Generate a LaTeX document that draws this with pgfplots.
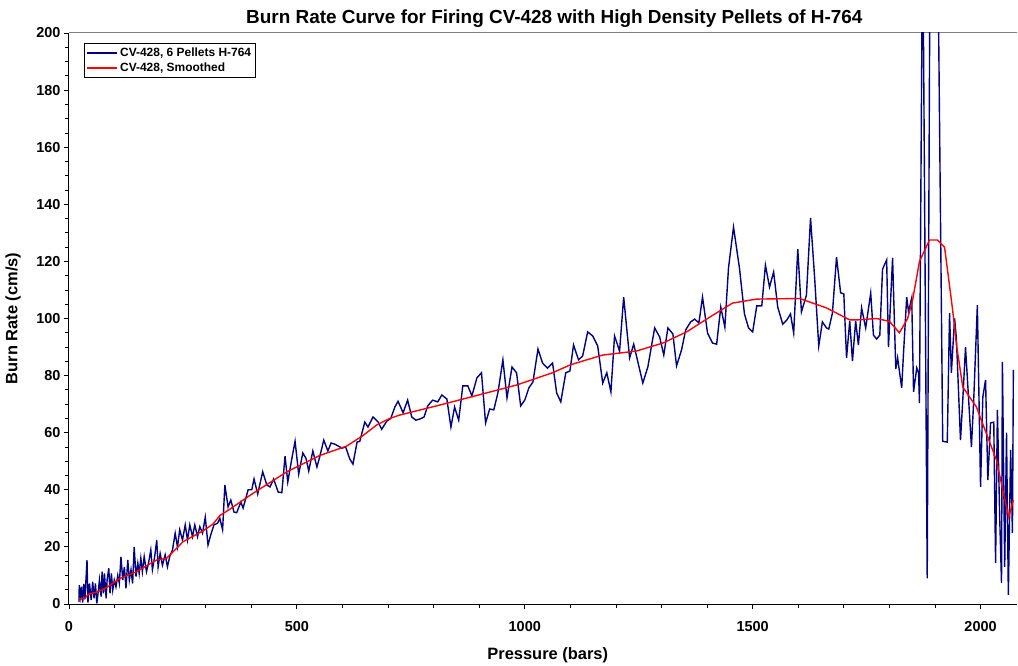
\documentclass[border=0pt]{standalone}
\usepackage{fontspec}
\setmainfont{Liberation Sans}
\usepackage{pgfplots}
\pgfplotsset{compat=1.18}
\definecolor{navyblue}{RGB}{0,0,128}
\definecolor{borderg}{RGB}{128,128,128}
\begin{document}
\begin{tikzpicture}
\useasboundingbox (-69bp,-62bp) rectangle (949bp,604bp);
\begin{axis}[
  at={(0,0)}, anchor=south west,
  scale only axis, width=948bp, height=571bp,
  xmin=0, xmax=2080, ymin=0, ymax=200,
  axis x line*=bottom, axis y line*=left,
  axis line style={black, line width=1bp},
  xtick={0,500,1000,1500,2000}, minor x tick num=4,
  ytick={0,20,...,200}, minor y tick num=3,
  tick align=outside,
  major tick length=5bp, minor tick length=3.5bp,
  tick style={black, line width=0.8bp},
  /pgf/number format/assume math mode=true,
  /pgf/number format/1000 sep={},
  ticklabel style={font=\bfseries\fontsize{14.5}{16}\selectfont},
  xticklabel style={yshift=-9bp},
  every axis title shift=0pt,
  title={Burn Rate Curve for Firing CV-428 with High Density Pellets of H-764},
  title style={font=\bfseries\fontsize{19}{22}\selectfont, at={(axis description cs:0.512,1.026)}, anchor=center},
  xlabel={Pressure (bars)},
  ylabel={Burn Rate (cm/s)},
  label style={font=\bfseries\fontsize{16.5}{19}\selectfont},
  xlabel style={at={(axis description cs:0.505,-0.0893)}, anchor=center},
  ylabel style={at={(axis description cs:-0.059,0.5)}, anchor=center},
  legend style={at={(axis description cs:0.0158,0.9825)}, anchor=north west,
    draw=black, line width=0.6bp, font=\bfseries\fontsize{12}{14}\selectfont,
    inner sep=2.5bp, row sep=1bp, cells={anchor=west}},
  legend image code/.code={\draw[#1] (0bp,0bp) -- (30bp,0bp);},
]
\draw[borderg, line width=1bp] (rel axis cs:0,1) -- (rel axis cs:1,1);
\addplot[navyblue, line width=1.4bp] table {
22 0.7
22.5 6.6
25.5 2.6
27.6 6.1
30 0.5
32.5 7
35 1.6
39.5 15.4
41.6 0.5
45 7.2
48.7 1.4
52 7.8
55 2
58 7.2
61 0.2
64.6 4.9
66.8 8.4
70.5 2.6
72.6 11.3
75.6 3.7
77.8 10.7
81.5 2
83.6 8.4
87.3 12.5
90 3.7
93 10.7
96 4.9
99.4 8.4
103 6
107 10
110.5 7.2
114 16.5
118 8.4
121.5 13
125 5.5
129 15.4
132.4 8.4
136 12
139.6 7.2
143 20
147 9.6
151 14.3
154 10.7
157.6 16
161 11.3
165 16.6
170 11.3
174.5 14.3
179.5 18.9
183 12
188 16.6
192.5 22.4
195.5 13
200 17.7
205 13.6
211 17.2
216 13
221 16.6
227 18.9
233 24.8
238 20
243 26
249 22.4
255 27.7
260 22.4
265 27.7
271 23.6
276 27.7
282 23.6
287 27.1
293 24.8
299 30.4
305 20.7
311 24.2
318 27.7
326 28.3
331 30
337 26
342 41.7
349 34
355 36.4
362 32.2
368 32
377 35.7
382 33.6
393 40
401 40
406 43.8
414 38.5
425 46.3
434 41.7
441 41
449 43.8
459 39.2
467 39
474 51.8
480 42.7
489 51
496 57
504 45.5
513 52.9
520 51
526 46.6
535 53.6
544 48
550 51.5
559 57.4
568 53.6
575 56.4
583 56
599 54.6
607 55
616 50.8
623 49
632 56.7
638 57
649 63.7
656 62
667 65.5
678 63.8
686 61.2
697 64
706 65
715 69
722 71
733 67
743 71.4
752 65.5
761 64.4
770 64.8
779 65.5
787 69.4
798 71.4
809 70.8
818 73.2
829 71.8
838 62
846 69
855 64.4
864 76.4
875 76.4
884 72.9
895 79.2
905 81
914 63.4
923 68.3
932 68
941 73.9
952 85.5
961 72.2
972 83
982 81
991 69.4
1000 71.4
1009 75.7
1018 77.8
1029 89.3
1039 84.4
1050 82.6
1061 84.4
1070 73.9
1079 70.8
1090 81
1099 81.6
1107 90.7
1118 85.5
1127 86.9
1138 95.3
1149 93.9
1160 90.4
1171 77.4
1180 81
1189 74.3
1197 93.9
1208 88.6
1217 107.5
1230 86.2
1239 91
1259 77.4
1270 83
1285 96.7
1296 93.5
1305 87.2
1314 96.7
1325 94.6
1333 83.4
1344 89
1353 96
1364 98.8
1373 99.8
1382 98.4
1390 107.5
1401 94.9
1412 91.4
1421 91
1430 104
1439 97
1447 117.7
1458 132
1471 117.7
1482 101.6
1491 96.7
1500 95.3
1509 104.4
1520 104.4
1528 118.7
1537 111
1546 116.3
1555 104
1566 98
1575 99.5
1583 101.6
1590 94.9
1599 124.3
1607 102.3
1618 108.2
1627 135.2
1636 114.2
1645 90.4
1653 98.8
1662 96.7
1667 96.3
1675 101.9
1684 121.5
1693 109
1700 108.6
1706 86.2
1713 99.1
1719 85.1
1726 99.1
1732 90.7
1739 103.7
1748 96.7
1759 108.9
1765 94.2
1772 92.8
1779 94.2
1785 117.3
1794 120.5
1798 90
1807 121.2
1814 82.3
1818 86.2
1827 75.7
1831 87.9
1838 107.5
1842 102.3
1849 107.2
1853 74.3
1860 82.7
1864 80.9
1866 70.4
1873 240
1883 9
1890 260
1905 250
1917 57
1927 56.7
1932 101.9
1936 81
1943 100
1947 93
1956 57.4
1961 71.4
1967 90
1973 73.9
1980 55
1985 71.4
1993 104.7
2000 41
2005 72.5
2011 78.5
2016 43.4
2022 63.4
2029 63.7
2033 14.4
2037 68
2042 30.5
2046 7.4
2048 84.8
2053 13
2057 60
2061 3.2
2066 54
2070 24.9
2072 82
};
\addlegendentry{CV-428, 6 Pellets H-764}
\addplot[red, line width=1.4bp] table {
22 1.8
35 2
42 3.4
64 4.3
85 6
112 9
148 11.3
192 15.4
214 16
233 19
250 21.8
294 25.6
316 28
331 31
351 33
404 38.8
478 46.3
550 52
609 55.3
645 59
675 62.7
704 65
726 66.2
814 69.7
908 73.6
982 76.7
1061 81
1099 83.7
1121 84.8
1171 87.2
1245 88.6
1303 91.4
1355 95.3
1406 100.5
1456 105.4
1509 106.8
1603 107
1662 103.7
1713 99.5
1728 99.5
1772 100
1800 99
1822 95
1840 100
1851 106.5
1866 120
1888 127.5
1905 127.5
1921 125
1936 106.5
1941 100
1947 91
1961 76
1991 69
2005 63
2035 50.4
2050 39
2062 30.5
2072 36.4
};
\addlegendentry{CV-428, Smoothed}
\end{axis}
\end{tikzpicture}
\end{document}
